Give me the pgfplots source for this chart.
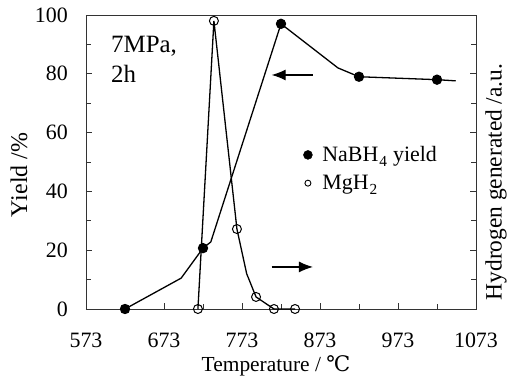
\documentclass[border=0pt]{standalone}
\usepackage{fontspec}
\setmainfont{Liberation Serif}
\newfontfamily\dejavu{DejaVu Serif}
\usepackage{pgfplots}
\pgfplotsset{compat=1.18}
\usetikzlibrary{arrows.meta}
\begin{document}
\begin{tikzpicture}
\begin{axis}[
  scale only axis, width=390bp, height=294bp,
  xmin=573, xmax=1073, ymin=0, ymax=100,
  xtick={573,673,...,1073}, minor x tick num=1,
  ytick={0,20,...,100}, minor y tick num=1,
  xtick pos=bottom, ytick pos=both,
  tick align=inside,
  major tick length=6bp, minor tick length=5bp,
  axis line style={line width=0.9bp, black!80},
  every tick/.style={black!80, line width=0.8bp},
  tick label style={font=\fontsize{22}{22}\selectfont},
  /pgf/number format/assume math mode=true,
  /pgf/number format/1000 sep={},
  xticklabel style={anchor=base, yshift=-38bp},
  yticklabel style={anchor=east, inner sep=0pt, xshift=-18bp},
  clip=false,
  legend style={draw=none, fill=none, at={(axis cs:851.5,56)}, anchor=north west,
    font=\fontsize{22}{22}\selectfont, inner sep=0pt, row sep=8bp,
    /tikz/every odd column/.append style={column sep=8bp}},
  legend cell align=left,
]
\addlegendimage{only marks, mark=*, mark size=4.5bp, black}
\addlegendentry{NaBH\textsubscript{\kern1bp\raisebox{-2bp}{4}} yield}
\addlegendimage{only marks, mark=o, mark size=3bp, black, mark options={fill=white, line width=0.9bp}}
\addlegendentry{MgH\textsubscript{\kern1bp\raisebox{-2bp}{2}}}
% MgH2 (open circles)
\addplot[forget plot, black, line width=1.3bp, mark=o, mark size=4.5bp,
  mark indices={1,2,3,5,6,7}, mark options={fill=white, line width=1bp}]
  coordinates {(716.5,0) (737,98) (766.5,27.2) (779,12) (791,4.1) (814,0) (841,0)};
% NaBH4 yield (filled circles)
\addplot[forget plot, black, line width=1.3bp, mark=*, mark size=4.5bp,
  mark indices={1,3,5,7,8}, mark options={fill=black}]
  coordinates {(623,0) (695,10.5) (723,20.7) (733,22.8) (823,97) (896,82) (923,79) (1023,78) (1047,77.6)};
\draw[line width=1.2bp, -{Latex[length=14bp,width=11bp]}] (axis cs:864,79.6) -- (axis cs:811,79.6);
\draw[line width=1.2bp, -{Latex[length=14bp,width=11bp]}] (axis cs:811,14.3) -- (axis cs:864,14.3);
\end{axis}
\path (current axis.south west) ++(25bp,273bp) node[anchor=north west, inner sep=0pt, align=left,
  font=\fontsize{25}{30}\selectfont] {7MPa,\\2h};
\path (current axis.south west) ++(190bp,-57bp) node[font=\fontsize{21.5}{22}\selectfont]
  {Temperature / {\dejavu ℃}};
\path (current axis.south west) ++(-67bp,134bp) node[rotate=90, font=\fontsize{24}{24}\selectfont] {Yield /\%};
\path (current axis.south west) ++(410bp,127bp) node[rotate=90, font=\fontsize{23.5}{24}\selectfont] {Hydrogen generated /a.u.};
\pgfresetboundingbox
\path (current axis.south west) ++(-86bp,-69bp) rectangle ++(520bp,378bp);
\end{tikzpicture}
\end{document}
